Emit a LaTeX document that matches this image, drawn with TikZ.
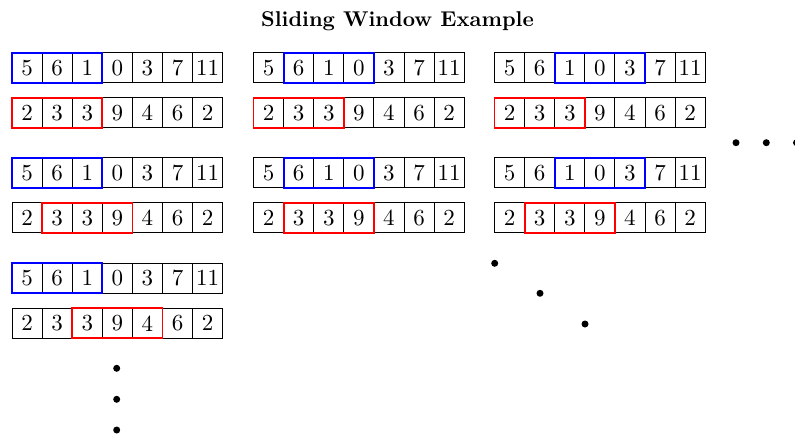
\documentclass[tikz,border=0pt]{standalone}
\usepackage{fontspec}
\setmainfont{lmroman10-regular.otf}[BoldFont=lmroman10-bold.otf]

% one panel: a top array and a bottom array, each with a highlighted window
% #1 prefix, #2 left, #3 top, #4/#5 blue window cells, #6/#7 red window cells
\newcommand\swpanel[7]{%
  \foreach \v [count=\i from 0] in {5,6,1,0,3,7,11}
    \node[cell] (#1t\i) at ({#2+(\i+0.5)*30.1},{#3+15}) {\v};
  \foreach \v [count=\i from 0] in {2,3,3,9,4,6,2}
    \node[cell] (#1b\i) at ({#2+(\i+0.5)*30.1},{#3+60}) {\v};
  \draw[bluewin] (#1t#4.north west) rectangle (#1t#5.south east);
  \draw[redwin] (#1b#6.north west) rectangle (#1b#7.south east);
}

\begin{document}
\begin{tikzpicture}[x=1pt,y=-1pt,
  cell/.style={draw=black,line width=1pt,minimum width=30.1pt,minimum height=30pt,
    inner sep=0pt,outer sep=0pt,font=\fontsize{23}{27}\selectfont},
  bluewin/.style={draw=blue,line width=1.8pt},
  redwin/.style={draw=red,line width=1.8pt},
  dot/.style={circle,fill=black,inner sep=0pt,minimum size=7pt}]
\useasboundingbox (0,0) rectangle (795,434);

\node[font=\bfseries\fontsize{21.4}{25}\selectfont,anchor=base] (title) at (397.5,26.7)
  {Sliding Window Example};

\swpanel{pa}{12}{52.7}{0}{2}{0}{2}
\swpanel{pb}{253.5}{52.7}{1}{3}{0}{2}
\swpanel{pc}{494.5}{52.7}{2}{4}{0}{2}
\swpanel{pd}{12}{157.7}{0}{2}{1}{3}
\swpanel{pe}{253.5}{157.7}{1}{3}{1}{3}
\swpanel{pf}{494.5}{157.7}{2}{4}{1}{3}
\swpanel{pg}{12}{263.3}{0}{2}{2}{4}

% continuation dots
\node[dot] (v1) at (116.7,368.3) {};
\node[dot] (v2) at (116.7,399.3) {};
\node[dot] (v3) at (116.7,430) {};
\node[dot] (h1) at (736,142.7) {};
\node[dot] (h2) at (766.3,142.7) {};
\node[dot] (h3) at (796.5,142.7) {};
\node[dot] (d1) at (494.7,263.3) {};
\node[dot] (d2) at (540,293.3) {};
\node[dot] (d3) at (585,324) {};
\end{tikzpicture}
\end{document}
